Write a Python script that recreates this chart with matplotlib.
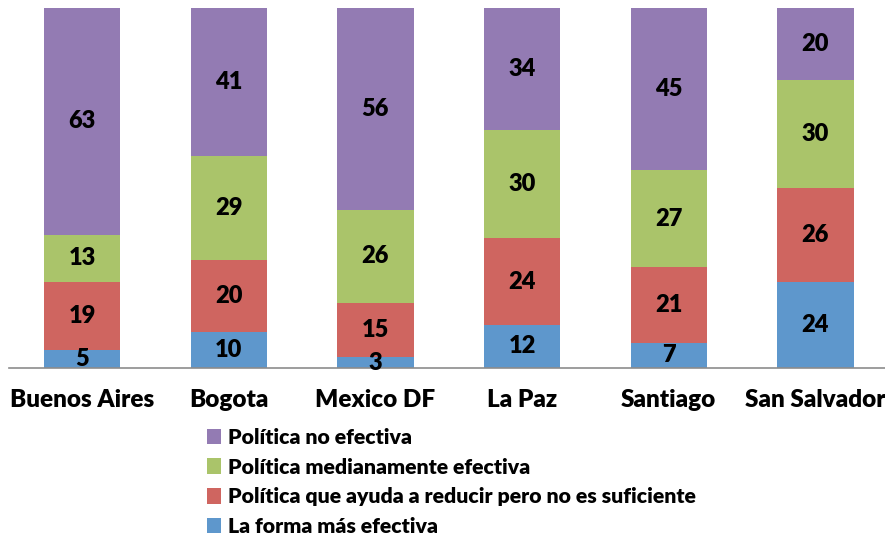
import matplotlib
matplotlib.use('Agg')
import matplotlib.pyplot as plt
import numpy as np

plt.rcParams['font.family'] = ['Lato', 'DejaVu Sans']
plt.rcParams['font.weight'] = 'bold'

cities = ['Buenos Aires', 'Bogota', 'Mexico DF', 'La Paz', 'Santiago', 'San Salvador']
mas_efectiva = [5, 10, 3, 12, 7, 24]
ayuda_reducir = [19, 20, 15, 24, 21, 26]
medianamente = [13, 29, 26, 30, 27, 30]
no_efectiva = [63, 41, 56, 34, 45, 20]

series = [
    ('La forma más efectiva', mas_efectiva, '#5E97CC'),
    ('Política que ayuda a reducir pero no es suficiente', ayuda_reducir, '#CF6560'),
    ('Política medianamente efectiva', medianamente, '#AAC46A'),
    ('Política no efectiva', no_efectiva, '#937BB3'),
]

fig = plt.figure(figsize=(8.85, 5.35), dpi=100)
ax = fig.add_axes([8.7 / 885, 167 / 535, 880 / 885, 360 / 535])

x = np.arange(len(cities))
bottom = np.zeros(len(cities))
handles = {}
for name, vals, col in series:
    bars = ax.bar(x, vals, 0.52, bottom=bottom, color=col, edgecolor='none', label=name)
    handles[name] = bars
    for xi, b, v in zip(x, bottom, vals):
        ax.text(xi, b + v / 2, str(v), ha='center', va='center',
                fontsize=17, fontweight='heavy', color='black')
    bottom += np.array(vals)

ax.set_xlim(-0.5, len(cities) - 0.5)
ax.set_ylim(0, 100)
ax.set_yticks([])
ax.set_xticks(x)
ax.set_xticklabels(cities, fontsize=17.5, fontweight='heavy')
ax.tick_params(axis='x', length=0, pad=15)
for s in ['top', 'right', 'left']:
    ax.spines[s].set_visible(False)
ax.spines['bottom'].set_color('#8C8C8C')
ax.spines['bottom'].set_linewidth(1.2)

order = [s[0] for s in series][::-1]
leg = fig.legend([handles[n] for n in order], order, loc='upper left',
                 bbox_to_anchor=(207 / 885, 1 - 428 / 535), frameon=False,
                 prop={'size': 15.3, 'weight': 'heavy'}, handlelength=0.65,
                 handleheight=0.75, handletextpad=0.35, labelspacing=0.5,
                 borderpad=0, borderaxespad=0)

fig.savefig('out.png', dpi=100)
